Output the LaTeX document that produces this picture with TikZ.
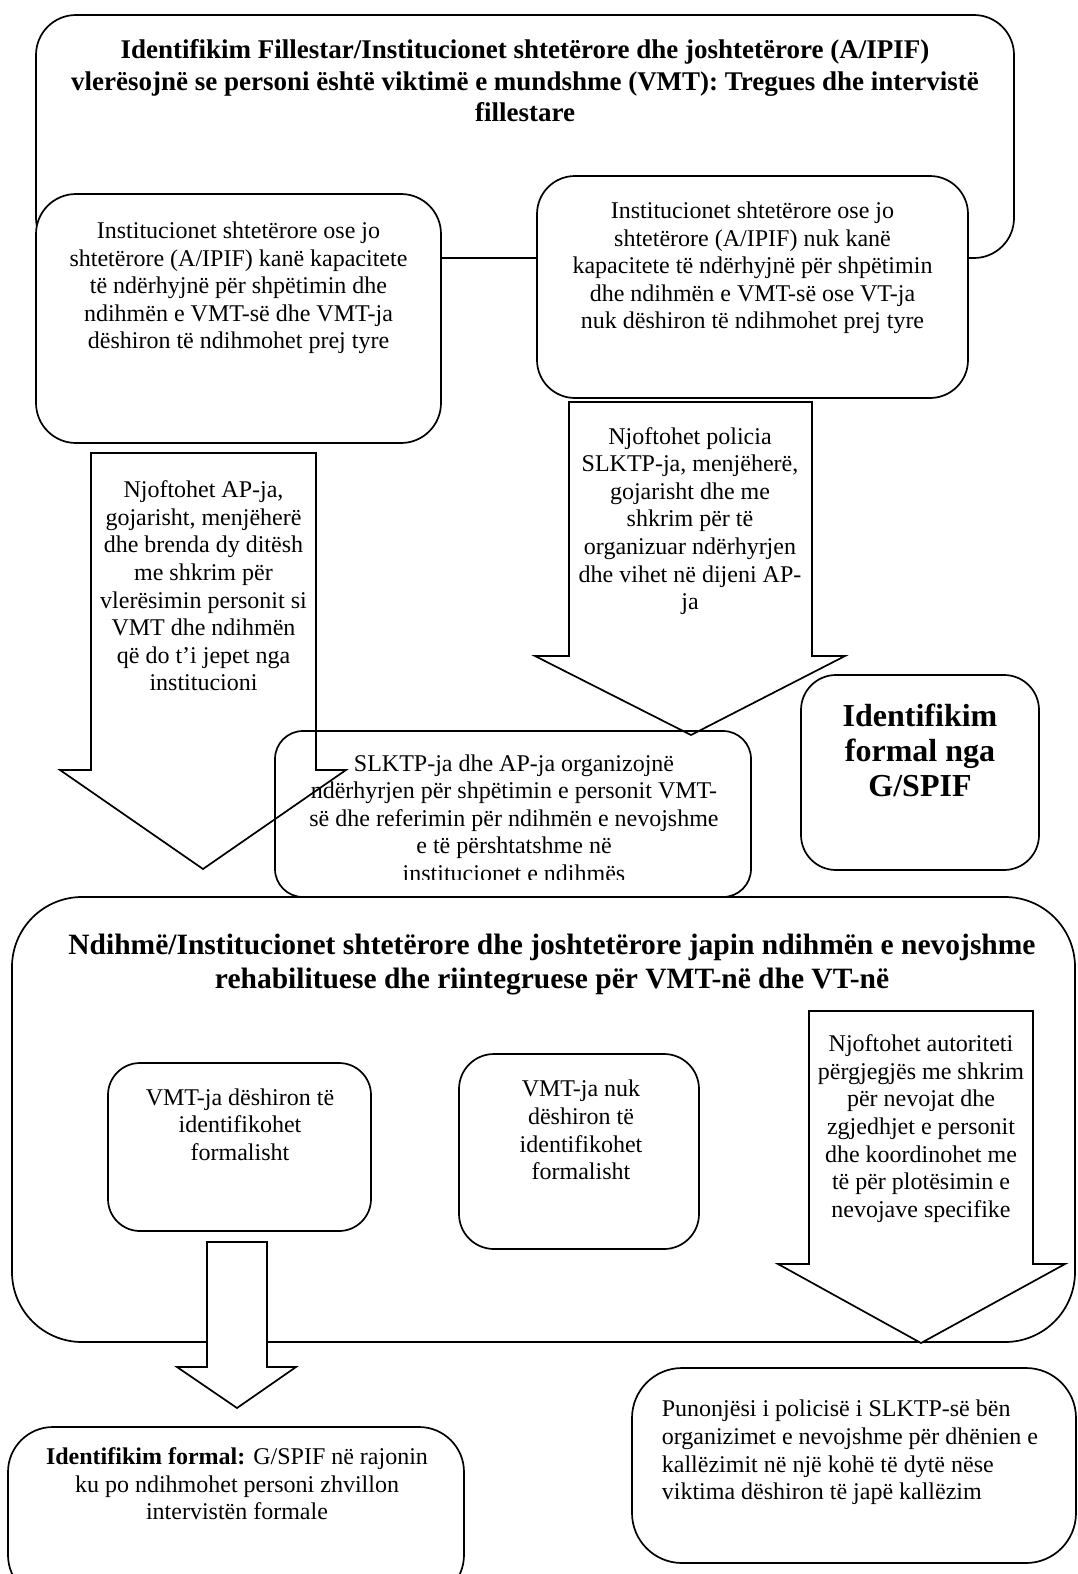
\documentclass[tikz,border=0pt]{standalone}
\usepackage{fontspec}
\setmainfont{Liberation Serif}
\begin{document}
\begin{tikzpicture}[x=1pt,y=-1pt,
  line width=1.7pt,
  rbox/.style={draw=black, fill=white, inner sep=0pt, outer sep=0pt},
  obox/.style={draw=black, inner sep=0pt, outer sep=0pt},
  blockarrow/.style={draw=black, line join=miter},
  txt/.style={font=\fontsize{24}{27.6}\selectfont, align=center, inner sep=0pt},
  ttl/.style={font=\bfseries\fontsize{27}{31.5}\selectfont, align=center, inner sep=0pt},
  bigttl/.style={font=\bfseries\fontsize{29.5}{34}\selectfont, align=center, inner sep=0pt},
  fttl/.style={font=\bfseries\fontsize{32}{35}\selectfont, align=center, inner sep=0pt}]
\useasboundingbox (0,0) rectangle (1078,1574);
\fill[white] (0,0) rectangle (1078,1574);

% top box
\node[rbox, rounded corners=40pt, minimum width=978pt, minimum height=243pt] (T) at (525,136.5) {};
\node[ttl] (Tt) at (525,81) {Identifikim Fillestar/Institucionet shtetërore dhe joshtetërore (A/IPIF)\\vlerësojnë se personi është viktimë e mundshme (VMT): Tregues dhe intervistë\\fillestare};

% L1 and R1
\node[rbox, rounded corners=40pt, minimum width=405pt, minimum height=249pt] (L1) at (238.5,318.5) {};
\node[txt] (L1t) at (238.5,288) {Institucionet shtetërore ose jo\\shtetërore (A/IPIF) kanë kapacitete\\të ndërhyjnë për shpëtimin dhe\\ndihmën e VMT-së dhe VMT-ja\\dëshiron të ndihmohet prej tyre};
\node[rbox, rounded corners=38pt, minimum width=431pt, minimum height=222pt] (R1) at (752.5,287) {};
\node[txt] (R1t) at (752.5,268) {Institucionet shtetërore ose jo\\shtetërore (A/IPIF) nuk kanë\\kapacitete të ndërhyjnë për shpëtimin\\dhe ndihmën e VMT-së ose VT-ja\\nuk dëshiron të ndihmohet prej tyre};

% arrow A2
\draw[blockarrow, fill=white] (569,402) -- (812,402) -- (812,656) -- (845,656) -- (691,735) -- (535,656) -- (569,656) -- cycle;
\node[txt] (A2t) at (690,521) {Njoftohet policia\\SLKTP-ja, menjëherë,\\gojarisht dhe me\\shkrim për të\\organizuar ndërhyrjen\\dhe vihet në dijeni AP-\\ja};

% F box
\node[rbox, rounded corners=35pt, minimum width=238pt, minimum height=195pt] (F) at (920,772.5) {};
\node[fttl] (Ft) at (920,750) {Identifikim\\formal nga\\G/SPIF};

% M box
\node[obox, rounded corners=28pt, minimum width=476pt, minimum height=166pt] (M) at (513,814) {};
\begin{scope}
\clip (275,731) rectangle (751,879);
\node[txt] (Mt) at (514,818) {SLKTP-ja dhe AP-ja organizojnë\\ndërhyrjen për shpëtimin e personit VMT-\\së dhe referimin për ndihmën e nevojshme\\e të përshtatshme në\\institucionet e ndihmës};
\end{scope}

% arrow A1
\draw[blockarrow] (91,453) -- (316,453) -- (316,770) -- (346,770) -- (203,869) -- (60,770) -- (91,770) -- cycle;
\node[txt] (A1t) at (203.5,586) {Njoftohet AP-ja,\\gojarisht, menjëherë\\dhe brenda dy ditësh\\me shkrim për\\vlerësimin personit si\\VMT dhe ndihmën\\që do t’i jepet nga\\institucioni};

% big box B
\node[rbox, rounded corners=70pt, minimum width=1063pt, minimum height=445pt] (B) at (543.5,1119.5) {};
\node[bigttl] (Bt) at (552,965) {Ndihmë/Institucionet shtetërore dhe joshtetërore japin ndihmën e nevojshme\\rehabilituese dhe riintegruese për VMT-në dhe VT-në};

\node[rbox, rounded corners=32pt, minimum width=263pt, minimum height=168pt] (V1) at (239.5,1147) {};
\node[txt] (V1t) at (240,1124.5) {VMT-ja dëshiron të\\identifikohet\\formalisht};
\node[rbox, rounded corners=35pt, minimum width=240pt, minimum height=195pt] (V2) at (579,1151.5) {};
\node[txt] (V2t) at (581,1130) {VMT-ja nuk\\dëshiron të\\identifikohet\\formalisht};

% arrow A3
\draw[blockarrow, fill=white] (809,1011) -- (1033,1011) -- (1033,1264) -- (1065,1264) -- (921,1343) -- (778,1264) -- (809,1264) -- cycle;
\node[txt] (A3t) at (921,1128.5) {Njoftohet autoriteti\\përgjegjës me shkrim\\për nevojat dhe\\zgjedhjet e personit\\dhe koordinohet me\\të për plotësimin e\\nevojave specifike};

% arrow A4
\draw[blockarrow, fill=white] (207,1242) -- (267,1242) -- (267,1367) -- (296,1367) -- (237,1408) -- (177,1367) -- (207,1367) -- cycle;

% bottom boxes
\node[rbox, rounded corners=45pt, minimum width=456pt, minimum height=173pt] (G) at (236,1513.5) {};
\node[txt] (Gt) at (237,1484) {\textbf{Identifikim formal:} G/SPIF në rajonin\\ku po ndihmohet personi zhvillon\\intervistën formale};
\node[rbox, rounded corners=50pt, minimum width=444pt, minimum height=195pt] (P) at (854,1465.5) {};
\node[txt, align=left, anchor=west] (Pt) at (661,1452.5) {Punonjësi i policisë i SLKTP-së bën\\organizimet e nevojshme për dhënien e\\kallëzimit në një kohë të dytë nëse\\viktima dëshiron të japë kallëzim};
\end{tikzpicture}
\end{document}
